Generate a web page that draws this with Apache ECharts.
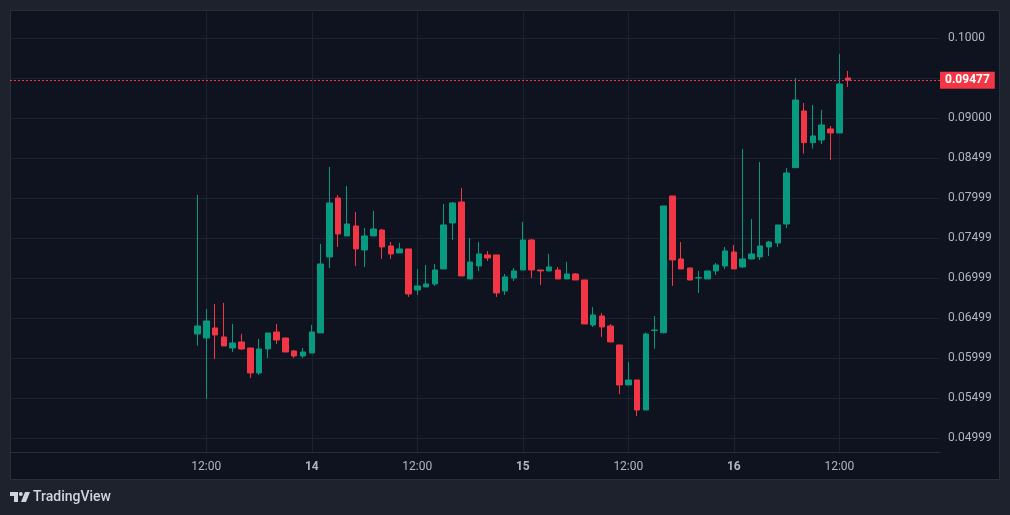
<!DOCTYPE html>
<html>
<head>
<meta charset="utf-8">
<script src="https://cdn.jsdelivr.net/npm/echarts@6/dist/echarts.min.js"></script>
<style>
html,body{margin:0;padding:0;background:#1e222d;}
#chart{width:1010px;height:515px;}
</style>
</head>
<body>
<div id="chart"></div>
<script>
// hourly candles, first one at day 13, 11:00 (x = hours since day 13, 00:00)
const firstHour = 11;
const opens = [0.06304,0.06254,0.06379,0.06267,0.06129,0.06204,0.06129,0.05817,0.06117,0.06329,
  0.06254,0.06092,0.06029,0.06067,0.06317,0.07267,0.08004,0.07529,0.07654,0.07354,
  0.07529,0.07604,0.07404,0.07317,0.07367,0.06854,0.06892,0.06929,0.07117,0.07692,
  0.07954,0.06992,0.07154,0.07292,0.07292,0.06842,0.07004,0.07104,0.07479,0.07104,
  0.07092,0.07104,0.06992,0.07054,0.06979,0.06417,0.06529,0.06404,0.06167,0.05667,
  0.05729,0.05354,0.06348,0.06320,0.08029,0.07242,0.07129,0.07004,0.06992,0.07092,
  0.07154,0.07329,0.07142,0.07242,0.07267,0.07392,0.07442,0.07679,0.08383,0.09092,
  0.08696,0.08729,0.08867,0.08817,0.09504];
const closes = [0.06404,0.06467,0.06292,0.06154,0.06192,0.06117,0.05817,0.06117,0.06317,0.06229,
  0.06079,0.06029,0.06079,0.06329,0.07179,0.07942,0.07554,0.07679,0.07367,0.07529,
  0.07617,0.07392,0.07304,0.07367,0.06804,0.06904,0.06929,0.07104,0.07667,0.07942,
  0.07029,0.07204,0.07304,0.07254,0.06817,0.07017,0.07092,0.07479,0.07104,0.07092,
  0.07142,0.06992,0.07054,0.06979,0.06429,0.06542,0.06392,0.06204,0.05667,0.05729,
  0.05354,0.06304,0.06353,0.07904,0.07229,0.07117,0.06979,0.07007,0.07092,0.07167,
  0.07342,0.07117,0.07242,0.07304,0.07404,0.07454,0.07667,0.08317,0.09229,0.08696,
  0.08779,0.08917,0.08817,0.09429,0.09477];
const lows = [0.06158,0.05492,0.05992,0.06154,0.06079,0.06104,0.05754,0.05792,0.06004,0.06179,
  0.06079,0.06004,0.06004,0.06067,0.06317,0.07129,0.07392,0.07529,0.07154,0.07142,
  0.07529,0.07242,0.07242,0.07317,0.06767,0.06792,0.06892,0.06904,0.07117,0.07479,
  0.07029,0.06992,0.07092,0.07217,0.06767,0.06792,0.06967,0.07104,0.07004,0.06917,
  0.07092,0.06992,0.06992,0.06979,0.06429,0.06392,0.06267,0.06204,0.05554,0.05667,
  0.05279,0.05354,0.06120,0.06310,0.06904,0.07117,0.06979,0.06817,0.06992,0.07042,
  0.07117,0.07117,0.07129,0.07242,0.07229,0.07279,0.07392,0.07629,0.08383,0.08558,
  0.08621,0.08679,0.08479,0.08817,0.09392];
const highs = [0.08042,0.06617,0.06679,0.06692,0.06429,0.06304,0.06129,0.06242,0.06317,0.06429,
  0.06254,0.06104,0.06129,0.06417,0.07429,0.08392,0.08042,0.08154,0.07829,0.07629,
  0.07842,0.07617,0.07454,0.07442,0.07367,0.07117,0.07167,0.07179,0.07929,0.07954,
  0.08129,0.07504,0.07454,0.07342,0.07292,0.07054,0.07129,0.07704,0.07492,0.07104,
  0.07304,0.07142,0.07204,0.07067,0.06979,0.06642,0.06567,0.06429,0.06167,0.05954,
  0.05729,0.06321,0.06529,0.07904,0.08029,0.07454,0.07129,0.07092,0.07092,0.07192,
  0.07392,0.07417,0.08617,0.07742,0.08454,0.07467,0.07667,0.08379,0.09504,0.09192,
  0.09167,0.09104,0.08904,0.09804,0.09592];
const lastPrice = 0.09477;
const lastPriceLabel = '0.09477';

const xTickHours = [12, 24, 36, 48, 60, 72, 84];
const xTickLabels = ['12:00', '14', '12:00', '15', '12:00', '16', '12:00'];
const xDayTicks = ['14', '15', '16'];

const priceGridValues = [0.05, 0.055, 0.06, 0.065, 0.07, 0.075, 0.08, 0.085, 0.09, 0.095, 0.1];
const priceLabelValues = [0.05, 0.055, 0.06, 0.065, 0.07, 0.075, 0.08, 0.085, 0.09, 0.1];
const priceLabels = ['0.04999', '0.05499', '0.05999', '0.06499', '0.06999', '0.07499', '0.07999', '0.08499', '0.09000', '0.1000'];

const UP = '#089981', DOWN = '#f23645';
const candles = opens.map((o, i) => [firstHour + i, o, closes[i], lows[i], highs[i]]);

const chart = echarts.init(document.getElementById('chart'), null, {renderer: 'canvas'});
const FONT = 'Roboto, "Noto Sans", sans-serif';
chart.setOption({
  animation: false,
  backgroundColor: '#1e222d',
  textStyle: {fontFamily: FONT},
  graphic: [
    {type: 'rect', z: -10, silent: true,
     shape: {x: 10.5, y: 10.5, width: 989, height: 469},
     style: {fill: '#0e131f', stroke: '#2a2e39', lineWidth: 1}},
    {type: 'polygon', silent: true, shape: {points: [[10,492],[18,492],[18,502],[14,502],[14,496],[10,496]]}, style: {fill: '#d1d4dc'}},
    {type: 'circle', silent: true, shape: {cx: 20.8, cy: 494, r: 2}, style: {fill: '#d1d4dc'}},
    {type: 'polygon', silent: true, shape: {points: [[25,492],[30,492],[26,502],[21,502]]}, style: {fill: '#d1d4dc'}},
    {type: 'text', silent: true, x: 33, y: 497,
     style: {text: 'TradingView', fill: '#d1d4dc', font: '500 14px ' + FONT, textVerticalAlign: 'middle'}}
  ],
  grid: {left: 10, right: 70, top: 10, bottom: 63, containLabel: false, outerBoundsMode: 'none'},
  xAxis: {
    type: 'value', min: -10.327, max: 95.45,
    axisLine: {show: true, lineStyle: {color: '#2a2e39', width: 1}},
    axisTick: {show: false, customValues: xTickHours},
    splitLine: {show: true, lineStyle: {color: '#1d222e', width: 1}},
    axisLabel: {
      customValues: xTickHours, margin: 9, fontSize: 12, color: '#b2b5be', fontFamily: FONT,
      formatter: function (v) {
        const i = xTickHours.indexOf(Math.round(v));
        const t = i >= 0 ? xTickLabels[i] : '';
        return xDayTicks.indexOf(t) >= 0 ? '{d|' + t + '}' : t;
      },
      rich: {d: {fontWeight: 'bold', fontSize: 12, color: '#b2b5be', fontFamily: FONT}}
    }
  },
  yAxis: {
    type: 'value', position: 'right', min: 0.048288, max: 0.103538, scale: true,
    axisLine: {show: false},
    axisTick: {show: false, customValues: priceGridValues},
    splitLine: {show: true, lineStyle: {color: '#1d222e', width: 1}},
    axisLabel: {
      customValues: priceLabelValues, margin: 8, fontSize: 12, color: '#b2b5be', fontFamily: FONT,
      formatter: function (v) {
        for (let i = 0; i < priceLabelValues.length; i++) {
          if (Math.abs(priceLabelValues[i] - v) < 1e-7) return priceLabels[i];
        }
        return '';
      }
    }
  },
  series: [{
    type: 'candlestick',
    data: candles,
    encode: {x: 0, y: [1, 2, 3, 4]},
    barWidth: 6,
    itemStyle: {color: UP, color0: DOWN, borderColor: UP, borderColor0: DOWN, borderColorDoji: UP, borderWidth: 1},
    markLine: {
      silent: true, symbol: ['none', 'none'], animation: false, precision: 5,
      lineStyle: {color: DOWN, type: [2, 2], width: 1},
      label: {
        show: true, position: 'end', distance: 0, formatter: lastPriceLabel,
        backgroundColor: DOWN, color: '#ffffff', fontWeight: 'bold', fontSize: 12,
        fontFamily: FONT, padding: [3, 5, 2, 5]
      },
      data: [{yAxis: lastPrice}]
    }
  }]
});
</script>
</body>
</html>
